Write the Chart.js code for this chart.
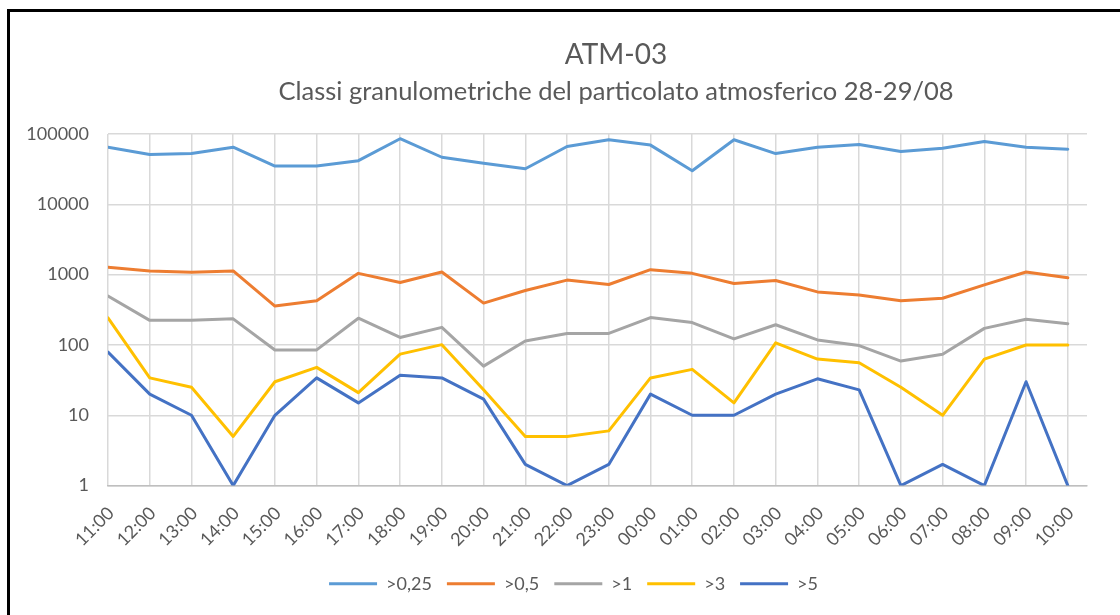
<!DOCTYPE html>
<html><head><meta charset="utf-8">
<script src="https://cdn.jsdelivr.net/npm/chart.js@4/dist/chart.umd.min.js"></script>
<style>
html,body{margin:0;padding:0;background:#fff;overflow:hidden}
#wrap{position:relative;width:1120px;height:615px;overflow:hidden}
#frame{position:absolute;left:7px;top:9px;width:2000px;height:1000px;border-left:3px solid #000;border-top:3px solid #000;pointer-events:none}
canvas{position:absolute;left:0;top:0}
</style></head><body>
<div id="wrap"><canvas id="c" width="1120" height="615"></canvas><div id="frame"></div></div>
<script>
const timeLabels = ['11:00','12:00','13:00','14:00','15:00','16:00','17:00','18:00','19:00','20:00','21:00','22:00','23:00','00:00','01:00','02:00','03:00','04:00','05:00','06:00','07:00','08:00','09:00','10:00'];
const seriesNames = ['>0,25','>0,5','>1','>3','>5'];
const s025 = [65000,51000,52700,65000,35000,35000,41800,85700,46700,38300,32000,66400,82800,69500,30000,82800,52700,65000,71000,56300,62800,78400,65000,60800];
const s05 = [1270,1130,1080,1130,357,426,1043,774,1090,394,594,836,724,1178,1043,750,827,568,514,426,461,716,1090,903];
const s1 = [497,224,224,235,85,85,240,128,178,50,114,146,146,245,208,122,194,118,98,59,74,172,232,201];
const s3 = [243,34,25,5,30,48,21,74,101,23,5,5,6,34,45,15,107,63,56,25,10,63,100,100];
const s5 = [79,20,10,1,10,34,15,37,34,17,2,1,2,20,10,10,20,33,23,1,2,1,30,1];
const yTicks = [1,10,100,1000,10000,100000];

const seriesValues = [s025, s05, s1, s3, s5];
const colors = ['#5B9BD5','#ED7D31','#A5A5A5','#FFC000','#4472C4'];
const TXT = '#595959';
const FONT = 'Lato';
const TITLE_CX = 616, LEGEND_CX = 573.5;

const centerShift = {
  id: 'centerShift',
  afterLayout(chart) {
    for (const box of chart.boxes) {
      let target = null;
      if (box === chart.legend) target = LEGEND_CX;
      else if (box.options && box.options.text !== undefined && box.options.font) target = TITLE_CX;
      if (target === null) continue;
      const d = target - (box.left + box.right) / 2;
      box.left += d; box.right += d;
    }
  }
};

const datasets = seriesValues.map((vals, k) => ({
  label: seriesNames[k],
  data: vals.map((v, i) => ({x: i, y: v})),
  borderColor: colors[k],
  backgroundColor: colors[k],
  borderWidth: 3,
  pointRadius: 0,
  pointHoverRadius: 0,
  fill: false,
  tension: 0,
  borderJoinStyle: 'round',
  borderCapStyle: 'round',
  order: seriesValues.length - k
}));

new Chart(document.getElementById('c'), {
  type: 'line',
  data: { datasets },
  plugins: [centerShift],
  options: {
    responsive: false,
    animation: false,
    devicePixelRatio: 1,
    layout: { padding: { left: 10, right: 33, top: 0, bottom: 12.2 } },
    plugins: {
      tooltip: { enabled: false },
      title: {
        display: true, text: 'ATM-03', color: TXT,
        font: { family: FONT, size: 28, weight: 'normal' },
        padding: { top: 38, bottom: 0 }
      },
      subtitle: {
        display: true, text: 'Classi granulometriche del particolato atmosferico 28-29/08', color: TXT,
        font: { family: FONT, size: 25.5, weight: 'normal' },
        padding: { top: 5.1, bottom: 26.7 }
      },
      legend: {
        position: 'bottom',
        labels: {
          boxWidth: 48, boxHeight: 3, padding: 15, color: TXT,
          font: { family: FONT, size: 18 },
          sort: (a, b) => a.datasetIndex - b.datasetIndex,
          generateLabels: (chart) => Chart.defaults.plugins.legend.labels.generateLabels(chart).map(l => Object.assign(l, { lineWidth: 0 }))
        }
      }
    },
    scales: {
      x: {
        type: 'linear', min: 0, max: timeLabels.length - 1 + 0.46,
        ticks: {
          stepSize: 1, includeBounds: false, autoSkip: false, maxTicksLimit: 100,
          minRotation: 45, maxRotation: 45, padding: 17, labelOffset: 3, color: TXT,
          font: { family: FONT, size: 18 },
          callback: (v) => (timeLabels[v] !== undefined ? timeLabels[v] : '')
        },
        grid: { color: '#D9D9D9', lineWidth: 1.5, drawTicks: false },
        border: { display: true, color: '#BFBFBF', width: 1.5 },
        afterFit: (s) => { s.height = 74.2; }
      },
      y: {
        type: 'logarithmic', min: 1, max: 100000,
        afterBuildTicks: (s) => { s.ticks = yTicks.map(v => ({ value: v })); },
        ticks: { padding: 19, color: TXT, font: { family: FONT, size: 18 }, callback: (v) => String(v) },
        grid: { color: '#D9D9D9', lineWidth: 1.5, drawTicks: false },
        border: { display: false },
        afterFit: (s) => { s.width = 98; }
      }
    }
  }
});
</script>
</body></html>
